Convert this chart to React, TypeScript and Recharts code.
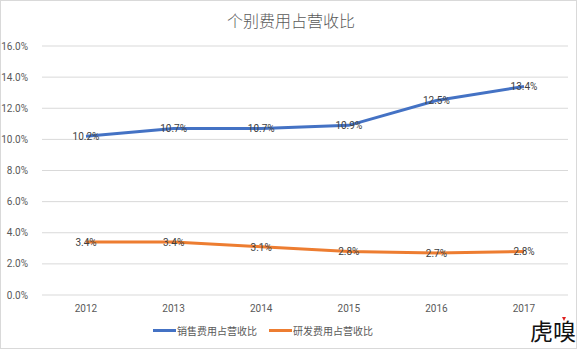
import { LineChart, Line, XAxis, YAxis, CartesianGrid, LabelList } from "recharts";

const years = ["2012", "2013", "2014", "2015", "2016", "2017"];
const salesRatio = [10.2, 10.7, 10.7, 10.9, 12.5, 13.4];
const rdRatio = [3.4, 3.4, 3.1, 2.8, 2.7, 2.8];
const yTicks = [0, 2, 4, 6, 8, 10, 12, 14, 16];

const data = years.map((y, i) => ({ year: y, sales: salesRatio[i], rd: rdRatio[i] }));

const cjk = '"Noto Sans CJK SC", "Noto Sans", sans-serif';
const num = 'Roboto, "Noto Sans", sans-serif';

function PointLabel(props: any) {
  const { x, y, value } = props;
  return (
    <text x={x} y={y + 4} textAnchor="middle" fontSize={10} fill="#404040" fontFamily={num}>
      {value.toFixed(1)}%
    </text>
  );
}

export default function App() {
  return (
    <div
      style={{
        position: "absolute",
        left: 0,
        top: 0,
        width: 582,
        height: 354,
        background: "#fff",
      }}
    >
      <div
        style={{
          position: "absolute",
          left: 0,
          top: 0,
          width: 577,
          height: 349,
          border: "1px solid #d9d9d9",
          boxSizing: "border-box",
        }}
      />
      <div
        style={{
          position: "absolute",
          top: 8,
          left: 0,
          width: 582,
          textAlign: "center",
          fontFamily: cjk,
          fontSize: 16,
          fontWeight: 300,
          color: "#595959",
        }}
      >
        个别费用占营收比
      </div>
      <div style={{ position: "absolute", left: 0, top: 0 }}>
        <LineChart
          width={582}
          height={354}
          data={data}
          margin={{ top: 46, right: 14, bottom: 29, left: 0 }}
        >
          <CartesianGrid vertical={false} stroke="#d9d9d9" />
          <XAxis
            dataKey="year"
            axisLine={false}
            tickLine={false}
            padding={{ left: 44, right: 44 }}
            height={30}
            tick={{ fontSize: 10, fill: "#595959", fontFamily: num }}
            tickMargin={4}
          />
          <YAxis
            width={42}
            domain={[0, 16]}
            ticks={yTicks}
            axisLine={false}
            tickLine={false}
            tickFormatter={(v) => `${v.toFixed(1)}%`}
            tick={{ fontSize: 10, fill: "#595959", fontFamily: num }}
            tickMargin={8}
          />
          <Line
            dataKey="sales"
            stroke="#4472C4"
            strokeWidth={3}
            dot={false}
            isAnimationActive={false}
          >
            <LabelList dataKey="sales" content={PointLabel} />
          </Line>
          <Line
            dataKey="rd"
            stroke="#ED7D31"
            strokeWidth={3}
            dot={false}
            isAnimationActive={false}
          >
            <LabelList dataKey="rd" content={PointLabel} />
          </Line>
        </LineChart>
      </div>
      <div
        style={{
          position: "absolute",
          top: 323,
          left: 153,
          display: "flex",
          alignItems: "center",
          fontFamily: cjk,
          fontSize: 10,
          color: "#595959",
          whiteSpace: "nowrap",
        }}
      >
        <span style={{ display: "inline-block", width: 23, height: 3, background: "#4472C4", marginRight: 1 }} />
        <span style={{ marginRight: 12 }}>销售费用占营收比</span>
        <span style={{ display: "inline-block", width: 23, height: 3, background: "#ED7D31", marginRight: 1 }} />
        <span>研发费用占营收比</span>
      </div>
      <div
        style={{
          position: "absolute",
          left: 530,
          top: 313,
          fontFamily: cjk,
          fontSize: 23,
          color: "#111",
          lineHeight: "34px",
          whiteSpace: "nowrap",
        }}
      >
        虎嗅
      </div>
      <div
        style={{
          position: "absolute",
          left: 562,
          top: 317,
          width: 0,
          height: 0,
          borderLeft: "2px solid transparent",
          borderRight: "2px solid transparent",
          borderTop: "4px solid #e02020",
        }}
      />
    </div>
  );
}
